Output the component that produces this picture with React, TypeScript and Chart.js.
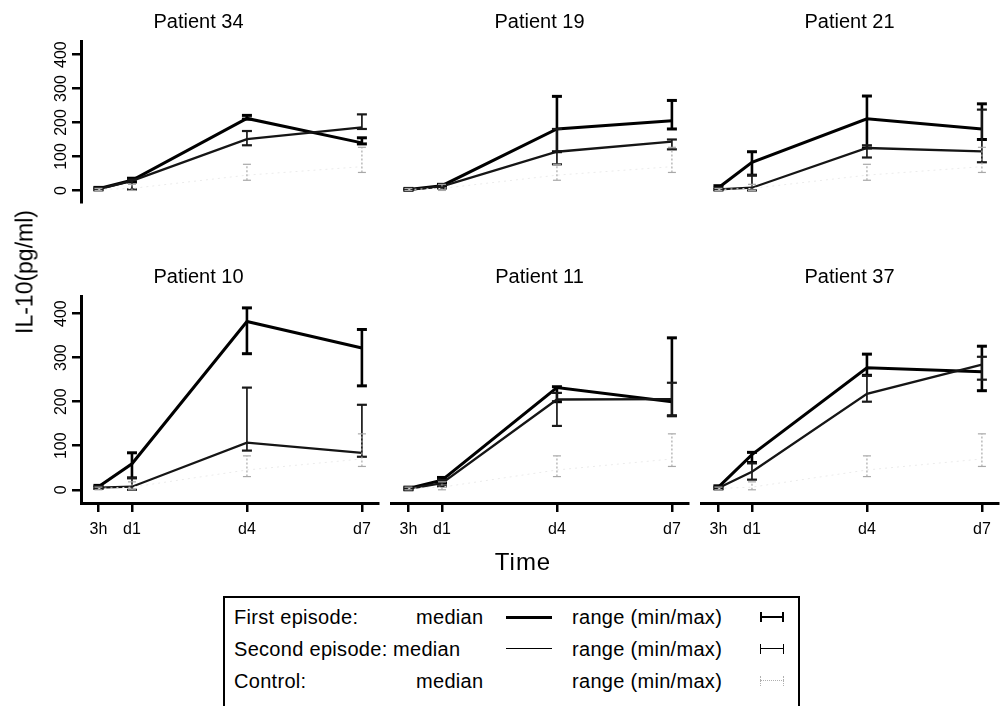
import React, { useEffect, useRef } from "react";
import { Chart, registerables } from "chart.js";

Chart.register(...registerables);

const FONT = "'Liberation Sans', Arial, Helvetica, sans-serif";
Chart.defaults.font.family = FONT;

// ---------- data ----------
const PATIENTS = ["Patient 34", "Patient 19", "Patient 21", "Patient 10", "Patient 11", "Patient 37"];
const TIME_DAYS = [0.125, 1, 4, 7];
const TIME_LABELS = ["3h", "d1", "d4", "d7"];
const Y_TICKS = [0, 100, 200, 300, 400];

// first episode (per patient: 3h, d1, d4, d7)
const FIRST_MEDIAN = [
  [5, 30, 212, 140],
  [3, 14, 181, 205],
  [8, 83, 211, 181],
  [7, 59, 382, 322],
  [3, 22, 232, 200],
  [6, 80, 277, 268],
];
const FIRST_MIN = [
  [2, 25, 210, 137],
  [1, 10, 114, 181],
  [3, 45, 125, 150],
  [4, 27, 309, 236],
  [0, 15, 200, 168],
  [3, 62, 260, 225],
];
const FIRST_MAX = [
  [9, 36, 221, 155],
  [6, 18, 277, 265],
  [14, 114, 278, 255],
  [10, 84, 413, 364],
  [6, 28, 234, 345],
  [9, 85, 308, 326],
];

// second episode
const SECOND_MEDIAN = [
  [4, 28, 151, 186],
  [2, 12, 114, 144],
  [3, 8, 125, 115],
  [5, 7, 107, 84],
  [2, 15, 205, 206],
  [4, 41, 218, 284],
];
const SECOND_MIN = [
  [1, 3, 133, 181],
  [0, 6, 77, 121],
  [0, 0, 97, 83],
  [2, 0, 89, 75],
  [0, 8, 145, 168],
  [1, 23, 200, 250],
];
const SECOND_MAX = [
  [8, 32, 175, 224],
  [5, 16, 181, 150],
  [8, 45, 133, 238],
  [8, 27, 232, 193],
  [5, 22, 220, 243],
  [7, 60, 259, 302],
];

// control group (same in every panel)
const CONTROL_MEDIAN = [3, 6, 45, 70];
const CONTROL_MIN = [0, 0, 30, 53];
const CONTROL_MAX = [6, 18, 77, 127];

// legend texts
const LEGEND_NAMES = ["First episode:", "Second episode:", "Control:"];
const LEGEND_MEDIAN = "median";
const LEGEND_RANGE = "range (min/max)";

// ---------- layout ----------
const PANEL_LEFT = [81, 391, 701];
const ROW_TOP = [41, 296];
const CHART_W = 297;
const CHART_H = 207;
const SIDE = 62;
const TITLE_H = 41;
const X_AXIS_H = 46;
const BOTTOM_PAD = 10;
const X_MIN = -0.33;
const X_MAX = 7.42;
const Y_MIN = [-34, -30];
const Y_MAX = 440;

function medianData(vals: number[]) {
  return TIME_DAYS.map((x, i) => ({ x, y: vals[i] }));
}
function rangeData(mins: number[], maxs: number[]) {
  const out: any[] = [];
  TIME_DAYS.forEach((x, i) => {
    out.push({ x, y: mins[i] }, { x, y: maxs[i] }, { x, y: null });
  });
  return out;
}

function Panel({ index }: { index: number }) {
  const ref = useRef<HTMLCanvasElement | null>(null);
  const row = Math.floor(index / 3);
  const col = index % 3;
  const showY = col === 0;
  const showX = row === 1;
  const bottom = showX ? X_AXIS_H : BOTTOM_PAD;
  const w = CHART_W + 2 * SIDE;
  const h = TITLE_H + CHART_H + bottom;

  useEffect(() => {
    if (!ref.current) return;
    const chart = new Chart(ref.current, {
      type: "line",
      data: {
        datasets: [
          {
            label: "Control range",
            data: rangeData(CONTROL_MIN, CONTROL_MAX),
            borderColor: "#a8a8a8",
            borderWidth: 1.2,
            borderDash: [2, 2],
            pointStyle: "line",
            pointRadius: 4,
            pointBorderWidth: 1.2,
            pointBorderColor: "#a8a8a8",
            spanGaps: false,
            fill: false,
          },
          {
            label: "Control median",
            data: medianData(CONTROL_MEDIAN),
            borderColor: "#ebebeb",
            borderWidth: 1,
            borderDash: [2, 4],
            pointRadius: 0,
            fill: false,
          },
          {
            label: "Second range",
            data: rangeData(SECOND_MIN[index], SECOND_MAX[index]),
            borderColor: "#1a1a1a",
            borderWidth: 1.7,
            pointStyle: "line",
            pointRadius: 5,
            pointBorderWidth: 2.2,
            pointBorderColor: "#1a1a1a",
            spanGaps: false,
            fill: false,
          },
          {
            label: "Second median",
            data: medianData(SECOND_MEDIAN[index]),
            borderColor: "#151515",
            borderWidth: 2.3,
            pointRadius: 0,
            fill: false,
          },
          {
            label: "First range",
            data: rangeData(FIRST_MIN[index], FIRST_MAX[index]),
            borderColor: "#000",
            borderWidth: 2.6,
            pointStyle: "line",
            pointRadius: 5,
            pointBorderWidth: 3,
            pointBorderColor: "#000",
            spanGaps: false,
            fill: false,
          },
          {
            label: "First median",
            data: medianData(FIRST_MEDIAN[index]),
            borderColor: "#000",
            borderWidth: 3,
            pointRadius: 0,
            fill: false,
          },
        ],
      },
      options: {
        animation: false,
        responsive: false,
        maintainAspectRatio: false,
        devicePixelRatio: 1,
        events: [],
        layout: {
          padding: {
            left: showY ? 0 : SIDE,
            right: SIDE,
            top: 0,
            bottom: showX ? 0 : BOTTOM_PAD,
          },
        },
        plugins: {
          legend: { display: false },
          tooltip: { enabled: false },
          title: {
            display: true,
            text: PATIENTS[index],
            color: "#000",
            font: { family: FONT, size: 20, weight: "normal" },
            padding: { top: 10, bottom: 7 },
          },
        },
        scales: {
          x: {
            type: "linear",
            display: showX,
            min: X_MIN,
            max: X_MAX,
            offset: false,
            afterBuildTicks: (scale: any) => {
              scale.ticks = TIME_DAYS.map((v) => ({ value: v }));
            },
            afterFit: (scale: any) => {
              scale.height = X_AXIS_H;
              scale.paddingLeft = 0;
              scale.paddingRight = 0;
            },
            ticks: {
              autoSkip: false,
              maxRotation: 0,
              minRotation: 0,
              padding: 8,
              color: "#000",
              font: { family: FONT, size: 16 },
              callback: (_v: any, i: number) => TIME_LABELS[i],
            },
            grid: {
              display: true,
              drawOnChartArea: false,
              drawTicks: true,
              tickLength: 9,
              color: "#000",
              lineWidth: 2.5,
            },
            border: { display: true, color: "#000", width: 3 },
          },
          y: {
            type: "linear",
            display: showY,
            min: Y_MIN[row],
            max: Y_MAX,
            afterBuildTicks: (scale: any) => {
              scale.ticks = Y_TICKS.map((v) => ({ value: v }));
            },
            afterFit: (scale: any) => {
              if (showY) scale.width = SIDE;
              scale.paddingTop = 0;
              scale.paddingBottom = 0;
            },
            ticks: {
              minRotation: 90,
              maxRotation: 90,
              crossAlign: "center",
              padding: -3,
              color: "#000",
              font: { family: FONT, size: 16 },
            },
            grid: {
              display: true,
              drawOnChartArea: false,
              drawTicks: true,
              tickLength: 9,
              color: "#000",
              lineWidth: 2.5,
            },
            border: { display: true, color: "#000", width: 3 },
          },
        },
      } as any,
    });
    return () => chart.destroy();
  }, [index]);

  return (
    <canvas
      ref={ref}
      width={w}
      height={h}
      style={{
        position: "absolute",
        left: PANEL_LEFT[col] - SIDE,
        top: ROW_TOP[row] - TITLE_H,
        width: w,
        height: h,
      }}
    />
  );
}

const LEGEND_MEDIAN_X = [416, 393, 416];
const LEGEND_LINE_W = [3, 1.6, 0];
const LEGEND_Y = [617, 649, 681];

function RangeGlyph({ dim, thick }: { dim: boolean; thick: boolean }) {
  const c = dim ? "#b0b0b0" : "#000";
  const style = dim ? "dotted" : "solid";
  const bw = thick ? 2 : 1.5;
  return (
    <div style={{ position: "relative", width: 24, height: 10 }}>
      <div style={{ position: "absolute", left: 0, top: 0, height: 10, borderLeft: `${bw}px ${style} ${c}` }} />
      <div style={{ position: "absolute", right: 0, top: 0, height: 10, borderLeft: `${bw}px ${style} ${c}` }} />
      <div style={{ position: "absolute", left: 0, right: 0, top: 4, borderTop: `${bw}px ${style} ${c}` }} />
    </div>
  );
}

export default function App() {
  const textStyle: React.CSSProperties = {
    position: "absolute",
    fontFamily: FONT,
    fontSize: 20,
    letterSpacing: 0.3,
    color: "#000",
    lineHeight: "24px",
    whiteSpace: "nowrap",
  };
  return (
    <div
      style={{
        position: "absolute",
        left: 0,
        top: 0,
        width: 1005,
        height: 706,
        overflow: "hidden",
        background: "#fff",
      }}
    >
      {PATIENTS.map((_, i) => (
        <Panel key={i} index={i} />
      ))}
      <div
        style={{
          position: "absolute",
          left: 25,
          top: 272,
          transform: "translate(-50%, -50%) rotate(-90deg)",
          fontFamily: FONT,
          fontSize: 23,
          whiteSpace: "nowrap",
          color: "#000",
        }}
      >
        IL-10(pg/ml)
      </div>
      <div
        style={{
          position: "absolute",
          left: 523,
          top: 562,
          transform: "translate(-50%, -50%)",
          fontFamily: FONT,
          fontSize: 24,
          letterSpacing: 1,
          whiteSpace: "nowrap",
          color: "#000",
        }}
      >
        Time
      </div>
      <div
        style={{
          position: "absolute",
          left: 223,
          top: 596,
          width: 577,
          height: 160,
          border: "2px solid #000",
          boxSizing: "border-box",
        }}
      />
      {LEGEND_NAMES.map((name, i) => (
        <React.Fragment key={i}>
          <div style={{ ...textStyle, left: 234, top: LEGEND_Y[i] - 12 }}>{name}</div>
          <div style={{ ...textStyle, left: LEGEND_MEDIAN_X[i], top: LEGEND_Y[i] - 12 }}>{LEGEND_MEDIAN}</div>
          {LEGEND_LINE_W[i] > 0 && (
            <div
              style={{
                position: "absolute",
                left: 506,
                width: 46,
                top: LEGEND_Y[i] - LEGEND_LINE_W[i] / 2,
                borderTop: `${LEGEND_LINE_W[i]}px solid #000`,
              }}
            />
          )}
          <div style={{ ...textStyle, left: 572, top: LEGEND_Y[i] - 12 }}>{LEGEND_RANGE}</div>
          <div style={{ position: "absolute", left: 760, top: LEGEND_Y[i] - 5 }}>
            <RangeGlyph dim={i === 2} thick={i === 0} />
          </div>
        </React.Fragment>
      ))}
    </div>
  );
}
